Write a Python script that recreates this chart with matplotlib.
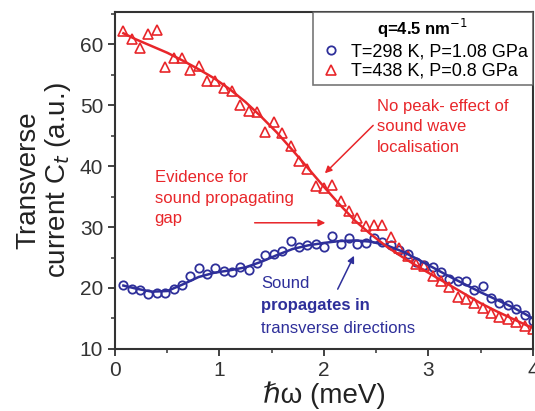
import matplotlib
matplotlib.use('Agg')
import matplotlib.pyplot as plt
from matplotlib.ticker import MultipleLocator

plt.rcParams['font.family'] = ['Liberation Sans', 'DejaVu Sans']

# measured points (energy in meV, current in a.u.)
energy = [0.08, 0.16, 0.24, 0.32, 0.40, 0.48, 0.56, 0.64, 0.72, 0.80,
          0.88, 0.96, 1.04, 1.12, 1.20, 1.28, 1.36, 1.44, 1.52, 1.60,
          1.68, 1.76, 1.84, 1.92, 2.00, 2.08, 2.16, 2.24, 2.32, 2.40,
          2.48, 2.56, 2.64, 2.72, 2.80, 2.88, 2.96, 3.04, 3.12, 3.20,
          3.28, 3.36, 3.44, 3.52, 3.60, 3.68, 3.76, 3.84, 3.92, 4.00]

cold = [20.5, 19.9, 19.6, 19.0, 19.1, 19.2, 19.9, 20.5, 22.0, 23.2,
        22.3, 23.2, 22.8, 22.7, 23.5, 23.0, 24.1, 25.4, 25.6, 26.0,
        27.7, 26.8, 27.1, 27.3, 26.8, 28.5, 27.3, 28.2, 27.3, 27.4,
        28.2, 27.6, 27.0, 26.3, 25.6, 24.3, 23.8, 23.5, 22.6, 21.5,
        21.1, 21.2, 19.6, 20.4, 18.4, 17.6, 17.2, 16.6, 15.6, 14.6]

hot = [62.2, 60.9, 59.3, 61.6, 62.3, 56.3, 57.8, 57.8, 55.7, 56.4,
       53.9, 53.9, 52.8, 52.4, 50.1, 49.1, 48.8, 45.6, 47.2, 45.5,
       43.3, 40.9, 39.5, 36.7, 36.4, 36.9, 34.3, 32.7, 31.5, 30.2,
       30.4, 30.4, 28.4, 26.5, 25.2, 24.0, 23.6, 22.0, 21.2, 20.2,
       18.6, 18.2, 17.6, 16.7, 15.9, 15.3, 14.9, 14.4, 13.7, 13.3]

# fit curves
fit_e = [0.08, 0.2, 0.35, 0.5, 0.65, 0.8, 0.95, 1.1, 1.25, 1.4, 1.55, 1.7,
         1.85, 2.0, 2.15, 2.3, 2.45, 2.6, 2.75, 2.9, 3.05, 3.2, 3.35, 3.5,
         3.65, 3.8, 3.95, 4.0]
cold_fit = [20.4, 19.9, 19.4, 19.5, 20.6, 21.8, 22.5, 22.9, 23.4, 24.3, 25.4, 26.4,
            27.0, 27.4, 27.7, 27.8, 27.6, 27.0, 26.0, 24.7, 23.3, 21.9, 20.6, 19.3,
            18.1, 16.9, 15.5, 15.0]
hot_fit = [61.8, 60.8, 59.7, 58.6, 57.3, 55.9, 54.4, 52.6, 50.5, 48.1, 45.5, 42.6,
           39.6, 36.6, 33.7, 31.0, 28.8, 26.8, 25.1, 23.5, 22.0, 20.5, 19.0, 17.5,
           16.2, 15.0, 13.8, 13.5]

blue = '#2e2f9a'
red = '#e8262a'

fig = plt.figure(figsize=(5.35, 4.11), dpi=100)
ax = fig.add_axes([0.215, 0.151, 0.781, 0.820])

ax.plot(energy, cold, 'o', mfc='none', mec=blue, mew=1.3, ms=6,
        label='T=298 K, P=1.08 GPa')
ax.plot(energy, hot, '^', mfc='none', mec=red, mew=1.2, ms=6.5,
        label='T=438 K, P=0.8 GPa')
ax.plot(fit_e, cold_fit, color=blue, lw=1.8)
ax.plot(fit_e, hot_fit, color=red, lw=1.8)

ax.set_xlim(0, 4)
ax.set_ylim(10, 65.3)
ax.xaxis.set_major_locator(MultipleLocator(1))
ax.xaxis.set_minor_locator(MultipleLocator(0.5))
ax.yaxis.set_major_locator(MultipleLocator(10))
ax.yaxis.set_minor_locator(MultipleLocator(5))
ax.tick_params(which='major', direction='out', length=5, width=1.3, labelsize=15,
               colors='#333333')
ax.tick_params(which='minor', direction='out', length=3, width=1.1, colors='#333333')
for sp in ax.spines.values():
    sp.set_linewidth(1.5)
    sp.set_color('#333333')

ax.set_xlabel('ℏω (meV)', fontsize=20, labelpad=1, color='#222222')
ax.set_ylabel('Transverse\ncurrent C$_t$ (a.u.)', fontsize=20, labelpad=5,
              color='#222222', linespacing=1.05)

leg = ax.legend(loc='upper right', title='q=4.5 nm$^{-1}$', fontsize=13,
                title_fontproperties={'weight': 'bold', 'size': 12},
                frameon=True, fancybox=False, handletextpad=0.4,
                borderpad=0.3, labelspacing=0.15, handlelength=1.4,
                borderaxespad=0.0)
leg.get_frame().set_edgecolor('#555555')
leg.get_frame().set_linewidth(1.2)

ax.text(2.51, 51.0, 'No peak- effect of\nsound wave\nlocalisation', color=red,
        fontsize=12, va='top', ha='left', linespacing=1.45)
ax.annotate('', xy=(1.99, 38.5), xytext=(2.49, 47.0),
            arrowprops=dict(arrowstyle='-|>', color=red, lw=1.1, mutation_scale=10))

ax.text(0.38, 39.3, 'Evidence for\nsound propagating\ngap', color=red,
        fontsize=12, va='top', ha='left', linespacing=1.45)
ax.annotate('', xy=(2.04, 30.7), xytext=(1.31, 30.7),
            arrowprops=dict(arrowstyle='-|>', color=red, lw=1.1, mutation_scale=10))

ax.text(1.40, 22.0, 'Sound', color=blue, fontsize=12, va='top', ha='left')
ax.text(1.40, 18.3, 'propagates in', color=blue, fontsize=12, va='top', ha='left',
        fontweight='bold')
ax.text(1.40, 14.6, 'transverse directions', color=blue, fontsize=12, va='top',
        ha='left')
ax.annotate('', xy=(2.30, 25.7), xytext=(2.12, 19.4),
            arrowprops=dict(arrowstyle='-|>', color=blue, lw=1.1, mutation_scale=10))

fig.savefig('out.png', dpi=100)
